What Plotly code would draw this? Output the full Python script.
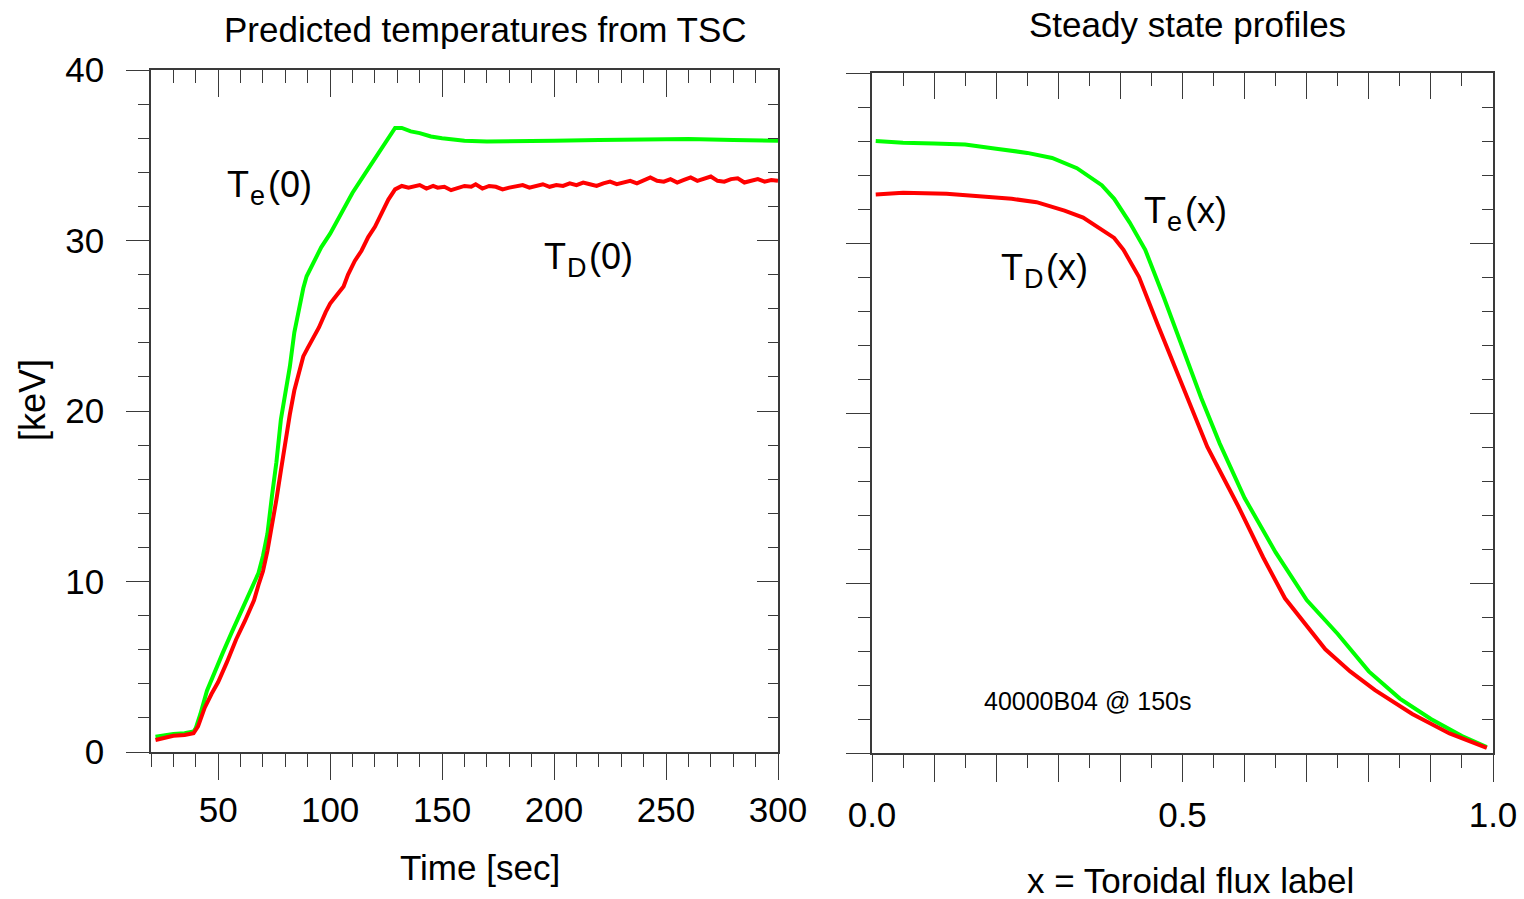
import plotly.graph_objects as go

# ---------------- data ----------------
# Left panel: central temperatures vs time [sec]
time_te = [22, 26, 30, 35, 39, 40, 42, 45, 48, 52, 56, 60, 64, 68, 70, 72, 74, 76, 78, 80,
           82, 84, 86, 88, 89.5, 92, 96, 100, 105, 110, 115, 118, 122, 126, 129, 132, 136,
           140, 145, 150, 160, 170, 180, 200, 220, 240, 260, 280, 300]
te0 = [0.9, 1.0, 1.05, 1.1, 1.2, 1.4, 2.2, 3.6, 4.6, 5.8, 7.0, 8.2, 9.3, 10.5, 11.5, 12.8,
       15.0, 17.0, 19.5, 21.0, 22.6, 24.6, 26.0, 27.2, 27.9, 28.6, 29.6, 30.4, 31.6, 32.8,
       33.8, 34.4, 35.3, 36.0, 36.6, 36.6, 36.4, 36.3, 36.1, 36.0, 35.85, 35.8, 35.8, 35.85,
       35.9, 35.95, 35.95, 35.9, 35.85]

time_td = [22, 26, 30, 35, 39, 41, 44, 47, 50, 54, 58, 62, 66, 68, 70, 72, 74, 76, 78, 80,
           82, 84, 86, 88, 90, 92, 95, 98, 100, 103, 106, 108, 111, 114, 117, 120, 123, 126,
           129, 132, 135, 137, 140, 143, 146, 148, 151, 154, 157, 160, 163, 165, 168, 171,
           174, 177, 180, 183, 186, 189, 192, 195, 198, 201, 204, 207, 210, 213, 216, 219,
           222, 225, 228, 231, 234, 237, 240, 243, 246, 249, 252, 255, 258, 261, 264, 267,
           270, 273, 276, 279, 282, 285, 288, 291, 294, 297, 300]
td0 = [0.7, 0.85, 0.95, 1.0, 1.1, 1.5, 2.6, 3.4, 4.1, 5.3, 6.6, 7.7, 8.9, 9.8, 10.6, 11.8,
       13.2, 14.8, 16.5, 18.2, 19.8, 21.2, 22.3, 23.2, 23.7, 24.2, 24.9, 25.8, 26.3, 26.8,
       27.3, 28.0, 28.8, 29.4, 30.2, 30.8, 31.6, 32.4, 33.0,
       33.2, 33.1, 33.15, 33.25, 33.05, 33.2, 33.1, 33.15, 32.95, 33.1, 33.2, 33.15, 33.3,
       33.05, 33.2, 33.15, 33.0, 33.1, 33.2, 33.25, 33.1, 33.2, 33.3, 33.15, 33.25, 33.2,
       33.35, 33.25, 33.4, 33.3, 33.2, 33.35, 33.45, 33.3, 33.4, 33.5, 33.35, 33.55, 33.7,
       33.5, 33.45, 33.6, 33.4, 33.55, 33.7, 33.5, 33.6, 33.75, 33.5, 33.45, 33.6, 33.65,
       33.4, 33.5, 33.6, 33.45, 33.55, 33.5]

# Right panel: steady state profiles vs toroidal flux label
x_te = [0.006, 0.05, 0.1, 0.15, 0.2, 0.25, 0.29, 0.33, 0.37, 0.39, 0.415, 0.44, 0.47, 0.5,
        0.53, 0.56, 0.6, 0.65, 0.7, 0.75, 0.8, 0.85, 0.9, 0.95, 0.99]
te_x = [36.0, 35.9, 35.85, 35.8, 35.55, 35.3, 35.0, 34.4, 33.4, 32.6, 31.2, 29.6, 26.8, 23.8,
        20.9, 18.2, 15.0, 11.8, 9.0, 7.0, 4.8, 3.2, 2.0, 1.0, 0.35]

x_td = [0.006, 0.05, 0.12, 0.18, 0.225, 0.265, 0.31, 0.34, 0.365, 0.39, 0.405, 0.43, 0.46,
        0.5, 0.54, 0.59, 0.63, 0.665, 0.705, 0.73, 0.77, 0.81, 0.87, 0.93, 0.99]
td_x = [32.85, 32.95, 32.9, 32.75, 32.6, 32.4, 31.9, 31.5, 30.9, 30.3, 29.6, 28.0, 25.2,
        21.6, 18.0, 14.5, 11.5, 9.1, 7.2, 6.1, 4.8, 3.7, 2.3, 1.15, 0.3]

left_xtick_vals = [50, 100, 150, 200, 250, 300]
left_ytick_vals = [0, 10, 20, 30, 40]
right_xlabel_vals = [0.0, 0.5, 1.0]
right_xlabel_text = ["0.0", "0.5", "1.0"]
right_xtick_vals = [0.0, 0.1, 0.2, 0.3, 0.4, 0.5, 0.6, 0.7, 0.8, 0.9, 1.0]

# ---------------- layout helpers ----------------
W, H = 1524, 899
FONT = "Liberation Sans, Arial, sans-serif"
AX = "#3a3a3a"


def px(x):
    return x / W


def py(y):
    return 1 - y / H


def axis(domain, rng, ticks, ticklen, minorlen, minordt, **kw):
    d = dict(domain=domain, range=rng, showline=True, linecolor=AX, linewidth=1.6,
             ticks=ticks, ticklen=ticklen, tickwidth=1.4, tickcolor=AX,
             showgrid=False, zeroline=False, fixedrange=True, automargin=False,
             tickfont=dict(family=FONT, size=35, color="black"),
             minor=dict(ticks=ticks, ticklen=minorlen, tickwidth=1.4, tickcolor=AX,
                        tickmode="linear", tick0=0, dtick=minordt, showgrid=False))
    d.update(kw)
    return d


fig = go.Figure()

green = dict(color="#00ff00", width=4)
red = dict(color="#ff0000", width=4)

fig.add_trace(go.Scatter(x=time_te, y=te0, mode="lines", line=green, xaxis="x", yaxis="y",
                         showlegend=False, hoverinfo="skip"))
fig.add_trace(go.Scatter(x=time_td, y=td0, mode="lines", line=red, xaxis="x", yaxis="y",
                         showlegend=False, hoverinfo="skip"))
fig.add_trace(go.Scatter(x=x_te, y=te_x, mode="lines", line=green, xaxis="x2", yaxis="y2",
                         showlegend=False, hoverinfo="skip"))
fig.add_trace(go.Scatter(x=x_td, y=td_x, mode="lines", line=red, xaxis="x2", yaxis="y2",
                         showlegend=False, hoverinfo="skip"))
# empty traces so the mirrored (top / right) and extra tick axes are created
for xa, ya in [("x3", "y"), ("x", "y3"), ("x4", "y2"), ("x2", "y4"), ("x5", "y2")]:
    fig.add_trace(go.Scatter(x=[], y=[], xaxis=xa, yaxis=ya, showlegend=False,
                             hoverinfo="skip"))

L_dom_x = [px(151), px(778)]
L_dom_y = [py(752), py(70)]
R_dom_x = [px(872), px(1493)]
R_dom_y = [py(753), py(73)]

fig.update_layout(
    template="none",
    width=W, height=H,
    margin=dict(l=0, r=0, t=0, b=0, pad=0, autoexpand=False),
    paper_bgcolor="white", plot_bgcolor="white",
    font=dict(family=FONT, color="black"),
    xaxis=axis(L_dom_x, [20, 300], "outside", 26, 13, 10, anchor="y",
               tickmode="array", tickvals=left_xtick_vals, ticklabelstandoff=0),
    yaxis=axis(L_dom_y, [0, 40], "outside", 23, 11, 2, anchor="x",
               tickmode="array", tickvals=left_ytick_vals, ticklabelstandoff=15),
    xaxis3=axis(L_dom_x, [20, 300], "inside", 27, 13, 10, anchor="y", overlaying="x",
                side="top", tickmode="array", tickvals=left_xtick_vals, showticklabels=False),
    yaxis3=axis(L_dom_y, [0, 40], "inside", 21, 10, 2, anchor="x", overlaying="y",
                side="right", tickmode="array", tickvals=left_ytick_vals, showticklabels=False),
    xaxis2=axis(R_dom_x, [0, 1], "outside", 27, 13, 0.05, anchor="y2",
                tickmode="array", tickvals=right_xlabel_vals, ticktext=right_xlabel_text,
                ticklabelstandoff=3),
    xaxis5=axis(R_dom_x, [0, 1], "outside", 27, 13, 0.05, anchor="y2", overlaying="x2",
                side="bottom", tickmode="array", tickvals=right_xtick_vals,
                showticklabels=False),
    yaxis2=axis(R_dom_y, [0, 40], "outside", 24, 12, 2, anchor="x2",
                tickmode="array", tickvals=left_ytick_vals, showticklabels=False),
    xaxis4=axis(R_dom_x, [0, 1], "inside", 26, 13, 0.05, anchor="y2", overlaying="x2",
                side="top", tickmode="array", tickvals=right_xtick_vals, showticklabels=False),
    yaxis4=axis(R_dom_y, [0, 40], "inside", 23, 11, 2, anchor="x2", overlaying="y2",
                side="right", tickmode="array", tickvals=left_ytick_vals, showticklabels=False),
)


def note(text, x, y, size, xanchor="center", angle=0):
    fig.add_annotation(text=text, x=px(x), y=py(y), xref="paper", yref="paper",
                       showarrow=False, xanchor=xanchor, yanchor="middle", textangle=angle,
                       borderpad=0, font=dict(family=FONT, size=size, color="black"))


# titles
note("Predicted temperatures from TSC", 485, 29.5, 35)
note("Steady state profiles", 1187, 24.5, 35)
note("Time [sec]", 480, 867, 35)
note("x = Toroidal flux label", 1190, 880.5, 35)
note("[keV]", 32, 400, 36, angle=-90)

# curve labels: "T", lowered subscript, argument (placed side by side, baseline based)
SUB_W = {"e": 15.0, "D": 19.5}


def label(sub, arg, xT, base):
    xs = xT + 0.611 * 36 + 1
    xa = xs + SUB_W[sub] + 3
    note("T", xT, base - 0.3465 * 36, 36, xanchor="left")
    note(sub, xs, base + 8 - 0.3465 * 27, 27, xanchor="left")
    note(arg, xa, base - 0.3465 * 36, 36, xanchor="left")


label("e", "(0)", 226, 197)
label("D", "(0)", 543, 269)
label("e", "(x)", 1143, 223)
label("D", "(x)", 1000, 280)

note("40000B04 @ 150s", 1087, 701, 25)

fig.write_html("out.html", config={"displayModeBar": False})
